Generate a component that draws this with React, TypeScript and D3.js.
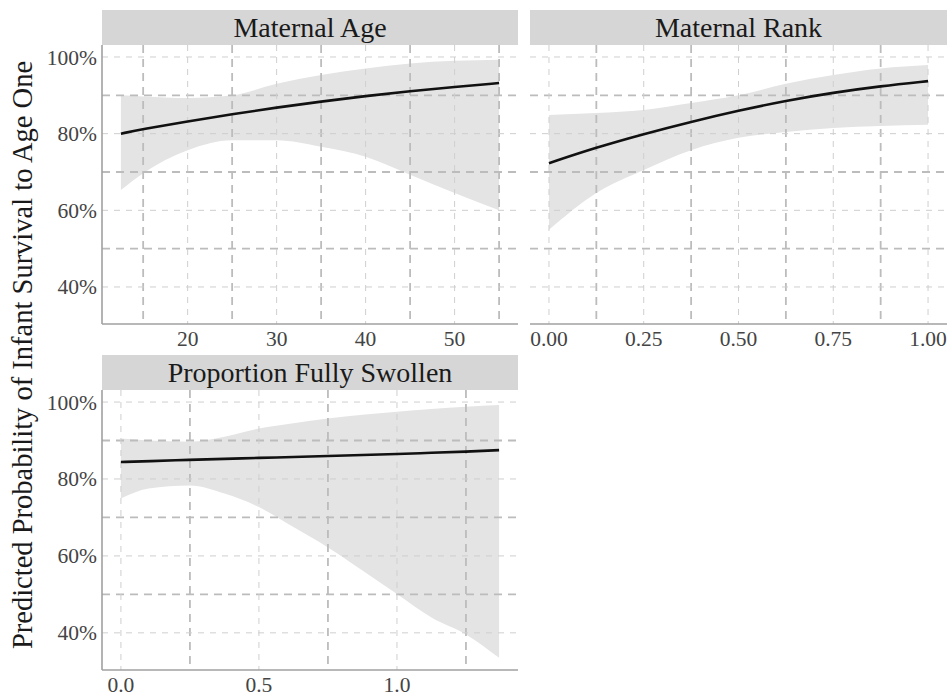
import React from "react";
import * as d3 from "d3";

// Maternal Age panel
const ageX = [12.5, 15, 20, 25, 30, 35, 40, 45, 50, 55];
const ageFit = [0.80, 0.812, 0.832, 0.851, 0.868, 0.884, 0.898, 0.911, 0.922, 0.932];
const ageHi = [0.90, 0.897, 0.893, 0.90, 0.93, 0.953, 0.97, 0.983, 0.99, 0.993];
const ageLo = [0.653, 0.697, 0.757, 0.783, 0.783, 0.766, 0.74, 0.693, 0.645, 0.60];

// Maternal Rank panel
const rankX = [0, 0.125, 0.25, 0.375, 0.5, 0.625, 0.75, 0.875, 1.0];
const rankFit = [0.723, 0.764, 0.799, 0.831, 0.86, 0.886, 0.907, 0.924, 0.937];
const rankHi = [0.849, 0.854, 0.862, 0.88, 0.90, 0.93, 0.953, 0.97, 0.979];
const rankLo = [0.549, 0.645, 0.705, 0.757, 0.789, 0.804, 0.815, 0.82, 0.823];

// Proportion Fully Swollen panel
const swolX = [0, 0.1, 0.25, 0.375, 0.5, 0.625, 0.75, 0.875, 1.0, 1.125, 1.25, 1.37];
const swolFit = [0.844, 0.846, 0.85, 0.852, 0.855, 0.857, 0.86, 0.862, 0.865, 0.868, 0.871, 0.875];
const swolHi = [0.905, 0.90, 0.897, 0.91, 0.931, 0.945, 0.957, 0.967, 0.975, 0.982, 0.988, 0.992];
const swolLo = [0.749, 0.775, 0.783, 0.762, 0.727, 0.675, 0.622, 0.562, 0.501, 0.44, 0.396, 0.335];

const yTicks = [0.4, 0.6, 0.8, 1.0];
const yMinor = [0.5, 0.7, 0.9];

const ageTicks = [20, 30, 40, 50];
const ageMinor = [15, 25, 35, 45, 55];
const rankTicks = [0, 0.25, 0.5, 0.75, 1.0];
const rankMinor = [0.125, 0.375, 0.625, 0.875];
const swolTicks = [0, 0.5, 1.0];
const swolMinor = [0.25, 0.75, 1.25];

const FONT = "'Liberation Serif', 'DejaVu Serif', serif";
const yDomain: [number, number] = [0.3034, 1.0313];

type PanelProps = {
  title: string;
  left: number;
  top: number;
  width: number;
  height: number;
  xDomain: [number, number];
  xs: number[];
  fit: number[];
  hi: number[];
  lo: number[];
  ticks: number[];
  minor: number[];
  fmt: (v: number) => string;
  showY: boolean;
};

const Panel = (p: PanelProps) => {
  const stripH = 35;
  const x = d3.scaleLinear().domain(p.xDomain).range([0, p.width]);
  const y = d3.scaleLinear().domain(yDomain).range([p.height, 0]);
  const idx = p.xs.map((_, i) => i);
  const area = d3
    .area<number>()
    .x((i) => x(p.xs[i]))
    .y0((i) => y(p.lo[i]))
    .y1((i) => y(p.hi[i]))
    .curve(d3.curveMonotoneX);
  const line = d3
    .line<number>()
    .x((i) => x(p.xs[i]))
    .y((i) => y(p.fit[i]))
    .curve(d3.curveBasis);

  return (
    <g transform={`translate(${p.left},${p.top})`}>
      <rect x={0} y={-stripH} width={p.width} height={stripH} fill="#d6d6d6" />
      <text
        x={p.width / 2}
        y={-stripH / 2}
        dy="0.35em"
        textAnchor="middle"
        fontFamily={FONT}
        fontSize={28}
        fill="#1a1a1a"
      >
        {p.title}
      </text>
      <path d={area(idx) || ""} fill="#e4e4e4" />
      {/* minor grid (thicker dashes) */}
      {yMinor.map((v) => (
        <line key={"ym" + v} x1={0} x2={p.width} y1={y(v)} y2={y(v)}
          stroke="#bcbcbc" strokeWidth={1.8} strokeDasharray="8,6" />
      ))}
      {p.minor.map((v) => (
        <line key={"xm" + v} x1={x(v)} x2={x(v)} y1={0} y2={p.height}
          stroke="#bcbcbc" strokeWidth={1.8} strokeDasharray="8,6" />
      ))}
      {/* major grid (thin dashes) */}
      {yTicks.map((v) => (
        <line key={"yM" + v} x1={0} x2={p.width} y1={y(v)} y2={y(v)}
          stroke="#cfcfcf" strokeWidth={1} strokeDasharray="6,6" />
      ))}
      {p.ticks.map((v) => (
        <line key={"xM" + v} x1={x(v)} x2={x(v)} y1={0} y2={p.height}
          stroke="#cfcfcf" strokeWidth={1} strokeDasharray="6,6" />
      ))}
      <path d={line(idx) || ""} fill="none" stroke="#111" strokeWidth={2.6} />
      <line x1={0} x2={p.width} y1={p.height} y2={p.height} stroke="#a0a0a0" strokeWidth={1.6} />
      {p.showY && (
        <line x1={0} x2={0} y1={0} y2={p.height} stroke="#a0a0a0" strokeWidth={1.6} />
      )}
      {p.showY &&
        yTicks.map((v) => (
          <text key={"yl" + v} x={-5} y={y(v)} dy="0.35em" textAnchor="end"
            fontFamily={FONT} fontSize={21.5} fill="#444">
            {d3.format(".0%")(v)}
          </text>
        ))}
      {p.ticks.map((v) => (
        <text key={"xl" + v} x={x(v)} y={p.height + 22} textAnchor="middle"
          fontFamily={FONT} fontSize={21.5} fill="#444">
          {p.fmt(v)}
        </text>
      ))}
    </g>
  );
};

const App = () => {
  const width = 952;
  const height = 696;
  return (
    <svg width={width} height={height} style={{ position: "absolute", left: 0, top: 0, background: "#fff" }}>
      <Panel title="Maternal Age" left={102} top={45} width={416} height={279}
        xDomain={[10.375, 57.125]} xs={ageX} fit={ageFit} hi={ageHi} lo={ageLo}
        ticks={ageTicks} minor={ageMinor} fmt={d3.format("d")} showY={true} />
      <Panel title="Maternal Rank" left={530} top={45} width={417} height={279}
        xDomain={[-0.05, 1.05]} xs={rankX} fit={rankFit} hi={rankHi} lo={rankLo}
        ticks={rankTicks} minor={rankMinor} fmt={d3.format(".2f")} showY={false} />
      <Panel title="Proportion Fully Swollen" left={102} top={390} width={416} height={280}
        xDomain={[-0.0685, 1.4385]} xs={swolX} fit={swolFit} hi={swolHi} lo={swolLo}
        ticks={swolTicks} minor={swolMinor} fmt={d3.format(".1f")} showY={true} />
      <text
        transform={`translate(32,355) rotate(-90)`}
        textAnchor="middle"
        fontFamily={FONT}
        fontSize={28.5}
        fill="#1a1a1a"
      >
        Predicted Probability of Infant Survival to Age One
      </text>
    </svg>
  );
};

export default App;
